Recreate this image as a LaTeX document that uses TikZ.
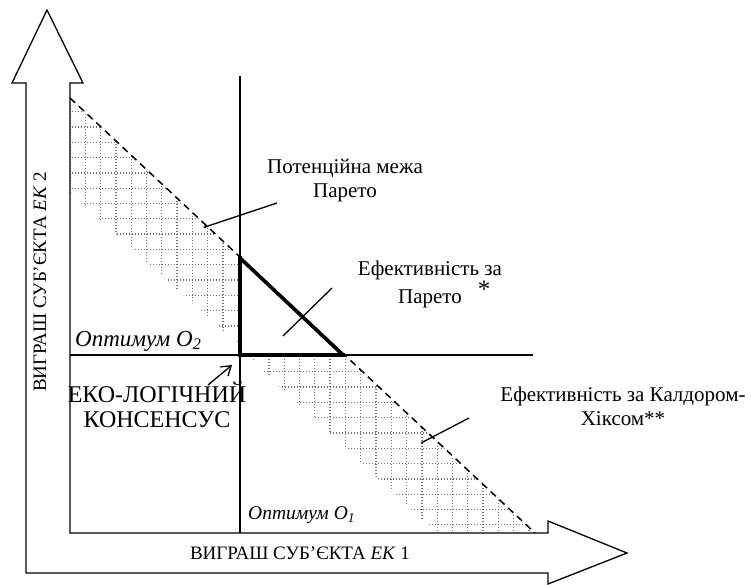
\documentclass[tikz,border=0pt]{standalone}
\usepackage{fontspec}
\IfFontExistsTF{LiberationSerif-Regular.ttf}
  {\setmainfont{LiberationSerif}[Extension=.ttf, UprightFont=*-Regular, ItalicFont=*-Italic, BoldFont=*-Bold, BoldItalicFont=*-BoldItalic]}
  {\setmainfont{Liberation Serif}}
\usetikzlibrary{arrows.meta}
\begin{document}
\begin{tikzpicture}[x=1pt,y=-1pt,
  axisline/.style={line width=1.3pt, line join=miter},
  thinline/.style={line width=1.3pt},
  thickline/.style={line width=3.6pt, line cap=rect},
  frontier/.style={line width=1.5pt, dash pattern=on 7pt off 5pt},
  hatch/.style={black!55, line width=1.3pt, dash pattern=on 1.3pt off 1.7pt},
  leader/.style={line width=1.3pt},
  lbl/.style={font=\fontsize{21pt}{24pt}\selectfont, inner sep=0pt, align=center},
  axlbl/.style={font=\fontsize{19pt}{24pt}\selectfont, inner sep=0pt}]
\useasboundingbox (0,0) rectangle (751,585);
% hatched bands
\begin{scope}
  \clip (70,98) -- (240,257) -- (240,346) -- (70,193) -- cycle;
  \foreach \i in {0,...,12} {\draw[hatch] ({70+15.3*\i},90) -- ({70+15.3*\i},360);}
  \foreach \j in {-1,...,17} {\draw[hatch] (60,{111.7+15.3*\j}) -- (250,{111.7+15.3*\j});}
\end{scope}
\begin{scope}
  \clip (248,357) -- (345,357) -- (535,531) -- (434,531) -- cycle;
  \foreach \i in {10,...,33} {\draw[hatch] ({70+15.3*\i},350) -- ({70+15.3*\i},540);}
  \foreach \j in {15,...,29} {\draw[hatch] (240,{111.7+15.3*\j}) -- (550,{111.7+15.3*\j});}
\end{scope}
% axes (double arrow outline)
\draw[axisline] (47,10) -- (83,83) -- (70,83) -- (70,533) -- (548,533) -- (548,521)
  -- (627,553) -- (548,584) -- (548,573) -- (26,573) -- (26,83) -- (12,83) -- cycle;
% optimum lines
\coordinate (vtop) at (240,76);
\coordinate (vbot) at (240,533);
\coordinate (hleft) at (70,355);
\coordinate (hright) at (533,355);
\draw[thinline] (vtop) -- (vbot);
\draw[thinline] (hleft) -- (hright);
% potential Pareto frontier
\coordinate (f1) at (70,98);
\coordinate (f2) at (535,533);
\draw[frontier] (f1) -- (f2);
% Pareto triangle
\coordinate (t1) at (240,258);
\coordinate (t2) at (240,355);
\coordinate (t3) at (343,355);
\draw[thickline, line join=miter] (t1) -- (t2) -- (t3);
\draw[line width=3.6pt] (t1) -- (t3);
% labels
\node[lbl] (pot) at (345,181) {Потенційна межа\\Парето};
\node[lbl, font=\fontsize{21pt}{28pt}\selectfont] (par) at (430,284) {Ефективність за\\Парето\rlap{\hspace{16pt}\raisebox{6pt}{\fontsize{25pt}{25pt}\selectfont *}}};
\node[lbl] (kh) at (623,406) {Ефективність за Калдором-\\Хіксом**};
\node[lbl, font=\fontsize{24pt}{25pt}\selectfont] (eko) at (157,405) {ЕКО-ЛОГІЧНИЙ\\КОНСЕНСУС};
\node[lbl, anchor=west, font=\fontsize{23pt}{24pt}\selectfont] (o2) at (75,341) {\itshape Оптимум O\textsubscript{2}};
\node[lbl, anchor=west, font=\fontsize{19.5pt}{24pt}\selectfont] (o1) at (248,515) {\itshape Оптимум O\textsubscript{1}};
\node[axlbl, rotate=90] (ylab) at (40,282) {ВИГРАШ СУБ’ЄКТА \textit{ЕК} 2};
\node[axlbl] (xlab) at (300,553) {ВИГРАШ СУБ’ЄКТА \textit{ЕК} 1};
% leaders
\coordinate (potA) at (205,227);
\coordinate (potB) at (277,203);
\draw[leader] (potA) -- (potB);
\fill (potA) circle (1.6pt);
\coordinate (parA) at (283,336);
\coordinate (parB) at (332,288);
\draw[leader] (parA) -- (parB);
\coordinate (khA) at (421,443);
\coordinate (khB) at (469,418);
\draw[leader] (khA) -- (khB);
% consensus arrow
\coordinate (arA) at (208,385);
\coordinate (arB) at (232,365);
\draw[line width=1.3pt, -{Straight Barb[length=9pt,width=12pt]}] (arA) -- (arB);
\end{tikzpicture}
\end{document}
